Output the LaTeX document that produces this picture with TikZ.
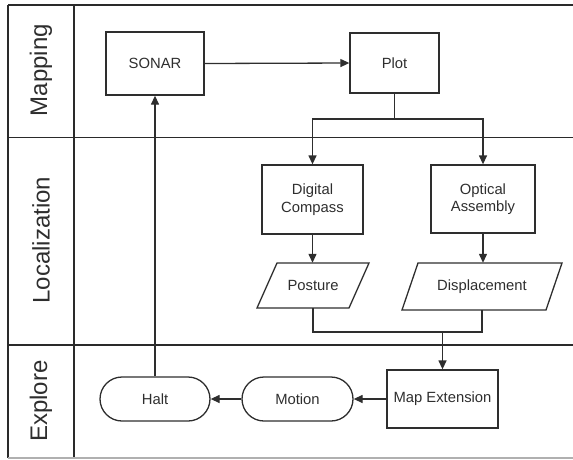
\documentclass[tikz,border=0pt]{standalone}
\usepackage{fontspec}
\setmainfont{Liberation Sans}
\usetikzlibrary{arrows.meta}
\definecolor{ink}{HTML}{2e2e2e}
\definecolor{lane}{HTML}{2a2a2a}
\definecolor{edge}{HTML}{b0b0b0}
\begin{document}
\begin{tikzpicture}[x=1pt,y=-1pt,
  txt/.style={text=ink, font=\fontsize{14.8}{17.5}\selectfont, align=center, inner sep=0pt},
  box/.style={txt, draw=ink, line width=1.3pt},
  pill/.style={box, rounded corners=22pt, minimum height=44pt},
  lanelbl/.style={text=ink, font=\fontsize{24}{28}\selectfont, rotate=90, inner sep=0pt},
  laneline/.style={draw=lane, line width=1.6pt},
  wire/.style={draw=ink, line width=1.3pt},
  arr/.style={wire, -{Triangle[length=9pt,width=8pt]}}]
\useasboundingbox (0,0) rectangle (573,459);
% lanes
\draw[lane, line width=2pt] (8,5) -- (573,5);
\draw[laneline] (8,5) -- (8,458);
\draw[laneline] (74,5) -- (74,458);
\draw[laneline] (8,137.5) -- (573,137.5);
\draw[laneline] (8,345) -- (573,345);
\draw[edge, line width=1.2pt] (8,458) -- (573,458);
\node[lanelbl] (lmap) at (41,70) {Mapping};
\node[lanelbl] (lloc) at (41,240) {Localization};
\node[lanelbl] (lexp) at (41,401) {Explore};
% nodes
\node[box, minimum width=98pt, minimum height=63pt] (sonar) at (155,63.5) {SONAR};
\node[box, minimum width=89pt, minimum height=60pt] (plot) at (394.5,63) {Plot};
\node[box, minimum width=101pt, minimum height=69pt] (dc) at (312.5,199.5) {Digital\\Compass};
\node[box, minimum width=104pt, minimum height=68pt] (oa) at (483,199) {Optical\\Assembly};
\node[txt, minimum width=80pt, minimum height=45pt] (post) at (313,285.5) {Posture};
\draw[wire, line join=miter] ([shift={(-36,-22.5)}]post.center) -- ([shift={(56,-22.5)}]post.center)
  -- ([shift={(36,22.5)}]post.center) -- ([shift={(-56,22.5)}]post.center) -- cycle;
\node[txt, minimum width=120pt, minimum height=47pt] (disp) at (482,286.5) {Displacement};
\draw[wire, line join=miter] ([shift={(-64,-23.5)}]disp.center) -- ([shift={(80,-23.5)}]disp.center)
  -- ([shift={(64,23.5)}]disp.center) -- ([shift={(-80,23.5)}]disp.center) -- cycle;
\node[box, minimum width=111pt, minimum height=58pt] (mapext) at (442.5,399) {Map Extension};
\node[pill, minimum width=111pt] (motion) at (297.5,399) {Motion};
\node[pill, minimum width=110pt] (halt) at (155,399) {Halt};
% connectors
\coordinate (fork) at (394.5,119);
\coordinate (join) at (442.5,332);
\draw[arr] (sonar.east) -- (plot.west);
\draw[wire] (plot.south) -- (fork);
\draw[arr] (fork) -| (dc.north);
\draw[arr] (fork) -| (oa.north);
\draw[arr] (dc.south) -- (dc.south |- post.north);
\draw[arr] (oa.south) -- (oa.south |- disp.north);
\draw[wire] (post.south) |- (join);
\draw[wire] (disp.south) |- (join);
\draw[arr] (join) -- (mapext.north);
\draw[arr] (mapext.west) -- (motion.east);
\draw[arr] (motion.west) -- (halt.east);
\draw[arr] (halt.north) -- (sonar.south);
\end{tikzpicture}
\end{document}
